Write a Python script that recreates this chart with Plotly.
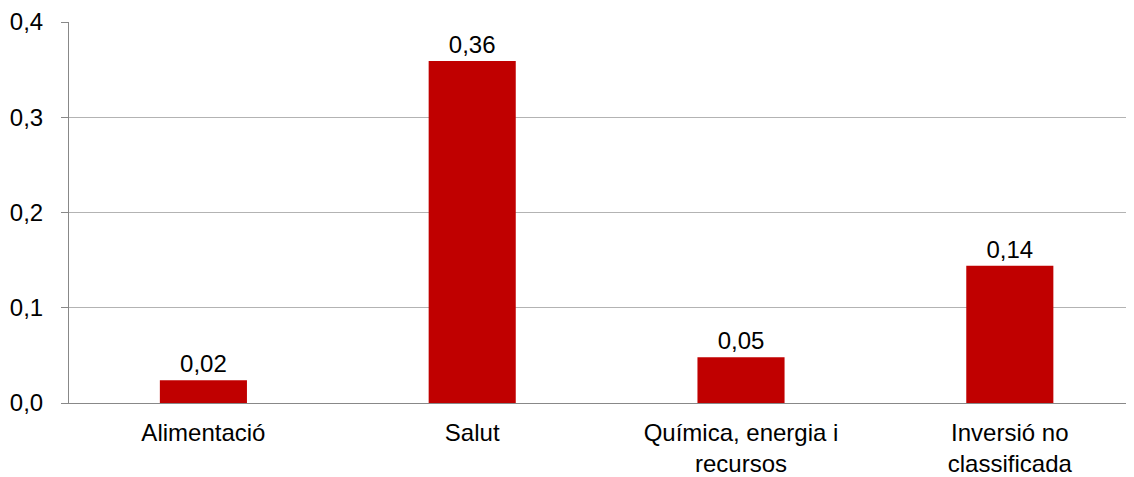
import plotly.graph_objects as go

categories = ["Alimentació", "Salut", "Química, energia i<br>recursos", "Inversió no<br>classificada"]
values = [0.024, 0.359, 0.048, 0.144]

fig = go.Figure(go.Bar(
    x=categories, y=values,
    marker=dict(color="#C00000", line=dict(width=0)),
    width=0.324,
    texttemplate="%{y:.2f}", textposition="outside",
    textfont=dict(family="Liberation Sans, Arial", size=24, color="#000000"),
    cliponaxis=False,
))

fig.update_layout(
    width=1126, height=469,
    margin=dict(l=61, r=0, t=14, b=71),
    paper_bgcolor="white", plot_bgcolor="white",
    separators=",.",
    showlegend=False,
    font=dict(family="Liberation Sans, Arial", size=24, color="#000000"),
    xaxis=dict(
        range=[-0.5, 3.462],
        showline=True, linecolor="#888888", linewidth=1,
        ticks="", showgrid=False,
        tickfont=dict(size=24),
        ticklabelstandoff=8,
    ),
    yaxis=dict(
        range=[0, 0.4], dtick=0.1, tickformat=".1f",
        showline=True, linecolor="#888888", linewidth=1,
        ticks="outside", ticklen=7, tickcolor="#888888",
        showgrid=True, gridcolor="#b3b3b3", gridwidth=1,
        zeroline=False,
        tickfont=dict(size=24),
        ticklabelstandoff=13,
    ),
)

fig.write_html("out.html")
